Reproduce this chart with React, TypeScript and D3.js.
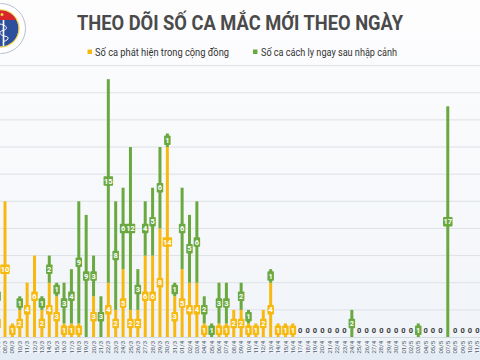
import { scaleLinear, scalePoint } from "d3";

const dates = [
  "07/3", "08/3", "09/3", "10/3", "11/3", "12/3", "13/3", "14/3", "15/3", "16/3",
  "17/3", "18/3", "19/3", "20/3", "21/3", "22/3", "23/3", "24/3", "25/3", "26/3",
  "27/3", "28/3", "29/3", "30/3", "31/3", "01/4", "02/4", "03/4", "04/4", "05/4",
  "06/4", "07/4", "08/4", "09/4", "10/4", "11/4", "12/4", "13/4", "14/4", "15/4",
  "16/4", "17/4", "18/4", "19/4", "20/4", "21/4", "22/4", "23/4", "24/4", "25/4",
  "26/4", "27/4", "28/4", "29/4", "30/4", "01/5", "02/5", "03/5", "04/5", "05/5",
  "06/5", "07/5", "08/5", "09/5", "10/5", "11/5"
];

// Số ca phát hiện trong cộng đồng
const communityCases = [
  2, 10, 1, 2, 4, 6, 2, 4, 3, 1,
  1, 1, 0, 3, 0, 4, 2, 5, 2, 2,
  6, 6, 8, 14, 3, 5, 4, 4, 1, 0,
  1, 1, 2, 2, 1, 1, 2, 4, 1, 1,
  1, 0, 0, 0, 0, 0, 0, 0, 0, 0,
  0, 0, 0, 0, 0, 0, 0, 0, 0, 0,
  0, 0, 0, 0, 0, 0
];

// Số ca cách ly ngay sau nhập cảnh
const importedCases = [
  2, 0, 0, 1, 0, 0, 1, 2, 1, 3,
  4, 9, 9, 3, 3, 15, 8, 6, 12, 3,
  4, 5, 6, 1, 1, 6, 5, 6, 2, 1,
  3, 3, 0, 2, 1, 0, 0, 1, 0, 0,
  0, 0, 0, 0, 0, 0, 0, 0, 2, 0,
  0, 0, 0, 0, 0, 0, 0, 1, 0, 0,
  0, 17, 0, 0, 0, 0
];

const seriesNames = ["Số ca phát hiện trong cộng đồng", "Số ca cách ly ngay sau nhập cảnh"];
const title = "THEO DÕI SỐ CA MẮC MỚI THEO NGÀY";

const WIDTH = 480;
const HEIGHT = 360;
const BASELINE = 337;
const TOP = 65.6;
const YELLOW = "#f7b90f";
const GREEN = "#6aa840";
const BAR_WIDTH = 3;
const FONT = "'Liberation Sans Narrow', Roboto, 'Open Sans', sans-serif";

export default function App() {
  const xScale = scalePoint<string>().domain(dates).range([-2.38, 477.3]);
  const yScale = scaleLinear().domain([0, 20]).range([BASELINE, TOP]);
  const gridTicks = yScale.ticks(10).filter((t) => t > 0);

  const bars = dates.map((date, i) => {
    const c = communityCases[i];
    const g = importedCases[i];
    return { date, x: xScale(date) ?? 0, c, g };
  });

  return (
    <svg
      width={WIDTH}
      height={HEIGHT}
      viewBox={`0 0 ${WIDTH} ${HEIGHT}`}
      style={{ position: "absolute", left: 0, top: 0, display: "block" }}
    >
      <defs>
        <linearGradient id="bg" x1="0" y1="0" x2="0" y2="1">
          <stop offset="0" stopColor="#fdfdfe" />
          <stop offset="0.7" stopColor="#f5f7fa" />
          <stop offset="1" stopColor="#eef2f7" />
        </linearGradient>
        <clipPath id="logoClip">
          <circle cx={0.5} cy={28.5} r={18} />
        </clipPath>
      </defs>
      <rect width={WIDTH} height={HEIGHT} fill="url(#bg)" />
      <rect y={353} width={WIDTH} height={7} fill="#e3ebf5" />

      {/* logo */}
      <g>
        <circle cx={0.5} cy={28.5} r={25} fill="#ffffff" stroke="#b5c0d0" strokeWidth={1} />
        <circle cx={0.5} cy={28.5} r={19.2} fill="#f2d35a" />
        <g clipPath="url(#logoClip)">
          <circle cx={0.5} cy={28.5} r={18} fill="#2d4f9c" />
          <rect x={-20} y={9} width={40} height={11} fill="#d8262b" />
          <circle cx={2} cy={14.5} r={1.5} fill="#f6d54a" />
          <line x1={3.5} y1={20} x2={3.5} y2={46} stroke="#ffffff" strokeWidth={1.6} />
          <path d="M0 24 C8 25.5, 8 29.5, 3 30.5 C-2 31.5, -1 35.5, 6.5 36.5 C9.5 37.5, 8.5 40.5, 3 41.5" fill="none" stroke="#ffffff" strokeWidth={1} />
        </g>
      </g>

      <text
        x={240}
        y={29.5}
        textAnchor="middle"
        fontFamily={FONT}
        fontWeight="bold"
        fontSize={20}
        fill="#4a4a4a"
        textLength={326}
        lengthAdjust="spacingAndGlyphs"
      >
        {title}
      </text>

      <rect x={87.5} y={49.5} width={4.5} height={4.5} fill={YELLOW} />
      <text x={95} y={55.5} fontFamily={FONT} fontSize={10.5} fill="#333" textLength={134} lengthAdjust="spacingAndGlyphs">
        {seriesNames[0]}
      </text>
      <rect x={253} y={49.5} width={4.5} height={4.5} fill={GREEN} />
      <text x={261} y={55.5} fontFamily={FONT} fontSize={10.5} fill="#333" textLength={136} lengthAdjust="spacingAndGlyphs">
        {seriesNames[1]}
      </text>

      {gridTicks.map((t) => (
        <line key={t} x1={0} x2={WIDTH} y1={yScale(t)} y2={yScale(t)} stroke="#dde1e6" strokeWidth={1} />
      ))}
      <line x1={0} x2={WIDTH} y1={BASELINE + 0.5} y2={BASELINE + 0.5} stroke="#d5dbe3" strokeWidth={1} />

      {bars.map((b) => (
        <g key={b.date}>
          {b.c > 0 ? (
            <rect x={b.x - BAR_WIDTH / 2} y={yScale(b.c)} width={BAR_WIDTH} height={yScale(0) - yScale(b.c)} fill={YELLOW} />
          ) : null}
          {b.g > 0 ? (
            <rect
              x={b.x - BAR_WIDTH / 2}
              y={yScale(b.c + b.g)}
              width={BAR_WIDTH}
              height={yScale(b.c) - yScale(b.c + b.g)}
              fill={GREEN}
            />
          ) : null}
        </g>
      ))}

      {bars.map((b) => (
        <g key={`l-${b.date}`}>
          {b.c > 0 ? <SegmentLabel x={b.x} y={yScale(b.c / 2)} value={b.c} color={YELLOW} /> : null}
          {b.g > 0 ? <SegmentLabel x={b.x} y={yScale(b.c + b.g / 2)} value={b.g} color={GREEN} /> : null}
          {b.c + b.g === 0 ? (
            <text
              x={b.x}
              y={yScale(0.5)}
              dy="0.35em"
              textAnchor="middle"
              fontFamily={FONT}
              fontWeight="bold"
              fontSize={7.5}
              fill="#3a3a3a"
            >
              0
            </text>
          ) : null}
        </g>
      ))}

      {bars.map((b) => (
        <text
          key={`t-${b.date}`}
          transform={`translate(${b.x},341) rotate(-90)`}
          dy="0.35em"
          textAnchor="end"
          fontFamily={FONT}
          fontSize={6}
          fill="#4c5a6e"
        >
          {b.date}
        </text>
      ))}
    </svg>
  );
}

function SegmentLabel({ x, y, value, color }: { x: number; y: number; value: number; color: string }) {
  const label = String(value);
  const w = label.length > 1 ? 9.5 : 6.5;
  const h = 9.5;
  return (
    <g>
      <rect x={x - w / 2} y={y - h / 2} width={w} height={h} rx={0.8} fill={color} />
      <text
        x={x}
        y={y}
        dy="0.35em"
        textAnchor="middle"
        fontFamily={FONT}
        fontWeight="bold"
        fontSize={7.5}
        fill="#ffffff"
      >
        {label}
      </text>
    </g>
  );
}
